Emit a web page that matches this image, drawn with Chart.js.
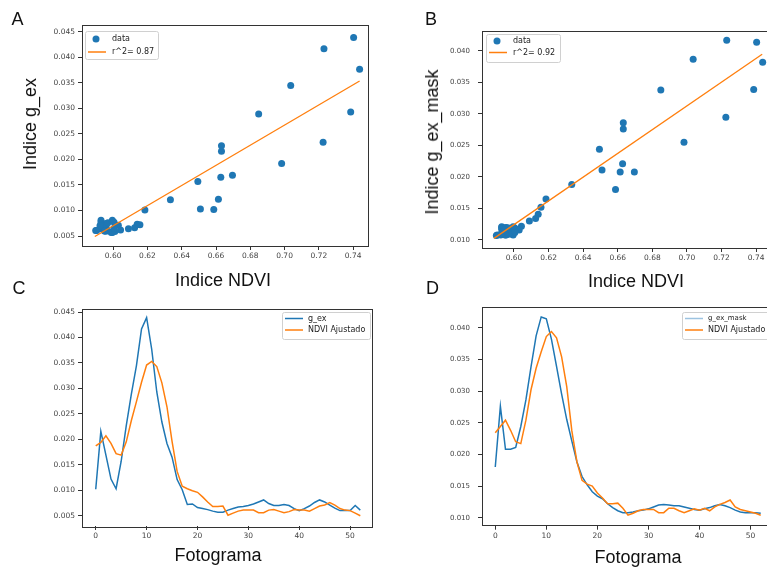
<!DOCTYPE html>
<html>
<head>
<meta charset="utf-8">
<script src="https://cdn.jsdelivr.net/npm/chart.js@4.4.1/dist/chart.umd.min.js"></script>
<style>
  body { margin: 0; background: #fff; overflow: hidden; width: 767px; height: 568px; position: relative;
         font-family: "Liberation Sans", Arial, sans-serif; }
  .pane { position: absolute; }
  .lbl { position: absolute; color: #111; white-space: nowrap; font-size: 18px; line-height: 1; }
  .ht { transform: translate(-50%, -50%); }
  .vt { transform: translate(-50%, -50%) rotate(-90deg); }
</style>
</head>
<body>

<div class="pane" style="left:0;top:0"><canvas id="chartA" width="380" height="280"></canvas></div>
<div class="pane" style="left:400px;top:0"><canvas id="chartB" width="380" height="280"></canvas></div>
<div class="pane" style="left:0;top:280px"><canvas id="chartC" width="380" height="288"></canvas></div>
<div class="pane" style="left:400px;top:280px"><canvas id="chartD" width="380" height="288"></canvas></div>

<div class="lbl ht" style="left:17.5px;top:18.5px">A</div>
<div class="lbl ht" style="left:431px;top:18.5px">B</div>
<div class="lbl ht" style="left:19px;top:287.5px">C</div>
<div class="lbl ht" style="left:432.5px;top:287.5px">D</div>

<div class="lbl vt" style="left:29.5px;top:124px">Indice g_ex</div>
<div class="lbl ht" style="left:223px;top:280px">Indice NDVI</div>
<div class="lbl vt" style="left:432px;top:142px">Indice g_ex_mask</div>
<div class="lbl ht" style="left:636px;top:281px">Indice NDVI</div>
<div class="lbl ht" style="left:218px;top:555px">Fotograma</div>
<div class="lbl ht" style="left:638px;top:557px">Fotograma</div>

<script>
// frame index of each sample
var frames = [0, 1, 2, 3, 4, 5, 6, 7, 8, 9, 10, 11, 12, 13, 14, 15, 16, 17, 18, 19, 20,
  21, 22, 23, 24, 25, 26, 27, 28, 29, 30, 31, 32, 33, 34, 35, 36, 37, 38, 39, 40,
  41, 42, 43, 44, 45, 46, 47, 48, 49, 50, 51, 52];

// NDVI per frame (x of the scatters)
var ndvi = [0.6587, 0.6632, 0.6696, 0.6614, 0.6509, 0.6494, 0.6632, 0.6849, 0.7036, 0.7230,
  0.7403, 0.7438, 0.7386, 0.7225, 0.6983, 0.6628, 0.6334, 0.6185, 0.6156, 0.6140,
  0.6125, 0.6089, 0.6043, 0.6010, 0.5989, 0.5995, 0.5903, 0.5923, 0.5944, 0.5954,
  0.5954, 0.5954, 0.5929, 0.5929, 0.5954, 0.5959, 0.5944, 0.5929, 0.5939, 0.5959,
  0.5954, 0.5954, 0.5944, 0.5969, 0.5995, 0.6005, 0.6030, 0.6005, 0.5969, 0.5954,
  0.5949, 0.5923, 0.5898];

var gex = [0.0102, 0.0216, 0.0169, 0.0122, 0.0103, 0.0157, 0.0227, 0.0289, 0.0345, 0.0417,
  0.0439, 0.0377, 0.0293, 0.0234, 0.0192, 0.0165, 0.0121, 0.0101, 0.0072, 0.0073,
  0.0066, 0.0064, 0.0062, 0.0059, 0.0057, 0.0057, 0.0061, 0.0064, 0.0067, 0.0068,
  0.0070, 0.0073, 0.0077, 0.0081, 0.0074, 0.0070, 0.0070, 0.0072, 0.0070, 0.0064,
  0.0060, 0.0064, 0.0069, 0.0076, 0.0081, 0.0077, 0.0071, 0.0065, 0.0060, 0.0060,
  0.0060, 0.0070, 0.0061];

var gexMask = [0.0180, 0.0276, 0.0208, 0.0208, 0.0211, 0.0244, 0.0286, 0.0338, 0.0387, 0.0417,
  0.0414, 0.0382, 0.0339, 0.0295, 0.0255, 0.0221, 0.0188, 0.0165, 0.0152, 0.0141,
  0.0134, 0.0130, 0.0122, 0.0116, 0.0111, 0.0108, 0.0108, 0.0109, 0.0111, 0.0112,
  0.0114, 0.0117, 0.0120, 0.0121, 0.0120, 0.0119, 0.0119, 0.0117, 0.0115, 0.0113,
  0.0112, 0.0114, 0.0116, 0.0119, 0.0121, 0.0119, 0.0116, 0.0112, 0.0109, 0.0108,
  0.0108, 0.0108, 0.0107];

// "NDVI Ajustado" curves
var ndviAjA = [0.0187, 0.0194, 0.0207, 0.0192, 0.0172, 0.0169, 0.0195, 0.0237, 0.0274, 0.0312,
  0.0346, 0.0353, 0.0343, 0.0311, 0.0264, 0.0196, 0.0137, 0.0108, 0.0103, 0.0099,
  0.0096, 0.0087, 0.0077, 0.0068, 0.0068, 0.0069, 0.0051, 0.0055, 0.0059, 0.0061,
  0.0061, 0.0061, 0.0056, 0.0056, 0.0061, 0.0062, 0.0059, 0.0056, 0.0058, 0.0062,
  0.0061, 0.0061, 0.0059, 0.0064, 0.0069, 0.0071, 0.0076, 0.0071, 0.0064, 0.0061,
  0.0060, 0.0055, 0.0050];

var ndviAjB = [0.0234, 0.0244, 0.0254, 0.0238, 0.0220, 0.0217, 0.0254, 0.0302, 0.0336, 0.0362,
  0.0386, 0.0394, 0.0384, 0.0354, 0.0307, 0.0237, 0.0188, 0.0159, 0.0153, 0.0150,
  0.0139, 0.0131, 0.0122, 0.0122, 0.0123, 0.0115, 0.0104, 0.0107, 0.0111, 0.0113,
  0.0113, 0.0113, 0.0108, 0.0108, 0.0115, 0.0115, 0.0111, 0.0108, 0.0111, 0.0114,
  0.0112, 0.0115, 0.0111, 0.0117, 0.0121, 0.0124, 0.0128, 0.0117, 0.0113, 0.0111,
  0.0109, 0.0107, 0.0104];

// fit lines (end points)
var fitAx = [0.5893, 0.7438];
var fitAy = [0.0049, 0.0354];
var fitBx = [0.5884, 0.7435];
var fitBy = [0.01026, 0.03947];

// tick labels
var ticksNdvi = [0.60, 0.62, 0.64, 0.66, 0.68, 0.70, 0.72, 0.74];
var ticksGex = [0.005, 0.010, 0.015, 0.020, 0.025, 0.030, 0.035, 0.040, 0.045];
var ticksMask = [0.010, 0.015, 0.020, 0.025, 0.030, 0.035, 0.040];
var ticksFrame = [0, 10, 20, 30, 40, 50];

var BLUE = '#1f77b4', ORANGE = '#ff7f0e';

function pts(xs, ys) {
    return xs.map(function(x, i) { return { x: x, y: ys[i] }; });
}

// box round the plot area
var framePlugin = {
    id: 'frameBox',
    afterDraw: function(chart) {
        var a = chart.chartArea, ctx = chart.ctx;
        ctx.save();
        ctx.strokeStyle = '#333';
        ctx.lineWidth = 1;
        ctx.strokeRect(Math.round(a.left) + 0.5, Math.round(a.top) + 0.5,
            Math.round(a.right - a.left), Math.round(a.bottom - a.top));
        ctx.restore();
    }
};

// legend drawn inside the axes, matplotlib style
var boxLegend = {
    id: 'boxLegend',
    afterDraw: function(chart, args, o) {
        if (!o || !o.items) return;
        var ctx = chart.ctx;
        ctx.save();
        ctx.fillStyle = 'rgba(255,255,255,0.85)';
        ctx.strokeStyle = '#d0d0d0';
        ctx.lineWidth = 1;
        ctx.beginPath();
        ctx.roundRect(o.x + 0.5, o.y + 0.5, o.w, o.h, 2);
        ctx.fill();
        ctx.stroke();
        o.items.forEach(function(it, i) {
            var cy = o.y + o.row0 + i * o.rowGap;
            if (it.kind == 'dot') {
                ctx.fillStyle = it.color;
                ctx.beginPath();
                ctx.arc(o.x + o.sym + 8, cy, 3.5, 0, Math.PI * 2);
                ctx.fill();
            } else {
                ctx.strokeStyle = it.color;
                ctx.lineWidth = 1.5;
                ctx.beginPath();
                ctx.moveTo(o.x + o.sym, cy);
                ctx.lineTo(o.x + o.sym + 18, cy);
                ctx.stroke();
            }
            ctx.fillStyle = '#222';
            ctx.font = (it.size || 8) + 'px "DejaVu Sans"';
            ctx.textBaseline = 'middle';
            ctx.fillText(it.text, o.x + o.txt, cy);
        });
        ctx.restore();
    }
};

function axis(range, ticks, fmt, fit, fsize, pad) {
    return {
        type: 'linear',
        min: range[0],
        max: range[1],
        afterBuildTicks: function(s) { s.ticks = ticks.map(function(v) { return { value: v }; }); },
        afterFit: fit,
        grid: { drawOnChartArea: false, tickLength: 4, color: '#333' },
        border: { display: false },
        ticks: {
            autoSkip: false, maxRotation: 0, padding: pad, color: '#444',
            font: { family: 'DejaVu Sans', size: fsize },
            callback: fmt
        }
    };
}

function makeChart(id, type, datasets, xr, yr, xt, yt, xfmt, yfmt, pad, xh, legend, yFont, yPad) {
    return new Chart(document.getElementById(id), {
        type: type,
        data: { datasets: datasets },
        options: {
            responsive: false,
            animation: false,
            devicePixelRatio: 1,
            layout: { padding: pad },
            plugins: { legend: { display: false }, tooltip: { enabled: false }, boxLegend: legend },
            scales: {
                x: axis(xr, xt, xfmt, function(s) { s.height = xh; }, 7.5, 2),
                y: axis(yr, yt, yfmt, function(s) { s.width = 82; }, yFont, yPad)
            }
        },
        plugins: [framePlugin, boxLegend]
    });
}

var f2 = function(v) { return v.toFixed(2); };
var f3 = function(v) { return v.toFixed(3); };
var f0 = function(v) { return String(v); };

// A
makeChart('chartA', 'scatter', [
    { type: 'line', data: pts(fitAx, fitAy), borderColor: ORANGE, borderWidth: 1.3, pointRadius: 0, order: 1 },
    { data: pts(ndvi, gex), backgroundColor: BLUE, borderWidth: 0, pointRadius: 3.5, order: 2 }
], [0.5818, 0.7487], [0.00304, 0.04637], ticksNdvi, ticksGex, f2, f3,
   { left: 0, top: 25, right: 12, bottom: 0 }, 34,
   { x: 85, y: 31, w: 73, h: 28, row0: 8, rowGap: 13, sym: 3, txt: 27,
     items: [{ kind: 'dot', color: BLUE, text: 'data' }, { kind: 'line', color: ORANGE, text: 'r^2= 0.87' }] },
   7.5, 3);

// B
makeChart('chartB', 'scatter', [
    { type: 'line', data: pts(fitBx, fitBy), borderColor: ORANGE, borderWidth: 1.3, pointRadius: 0, order: 1 },
    { data: pts(ndvi, gexMask), backgroundColor: BLUE, borderWidth: 0, pointRadius: 3.5, order: 2 }
], [0.5815, 0.7515], [0.00873, 0.04317], ticksNdvi, ticksMask, f2, f3,
   { left: 0, top: 31, right: 4, bottom: 0 }, 32,
   { x: 86, y: 34, w: 74, h: 28, row0: 7, rowGap: 11.5, sym: 3, txt: 27,
     items: [{ kind: 'dot', color: BLUE, text: 'data' }, { kind: 'line', color: ORANGE, text: 'r^2= 0.92' }] },
   7, 8);

// C
makeChart('chartC', 'line', [
    { data: pts(frames, ndviAjA), borderColor: ORANGE, borderWidth: 1.5, pointRadius: 0, tension: 0, order: 1 },
    { data: pts(frames, gex), borderColor: BLUE, borderWidth: 1.5, pointRadius: 0, tension: 0, order: 2 }
], [-2.7, 54.3], [0.00298, 0.0457], ticksFrame, ticksGex, f0, f3,
   { left: 0, top: 28.5, right: 8, bottom: 0 }, 42,
   { x: 282, y: 32, w: 88, h: 27, row0: 6.5, rowGap: 11.5, sym: 3, txt: 26,
     items: [{ kind: 'line', color: BLUE, text: 'g_ex' }, { kind: 'line', color: ORANGE, text: 'NDVI Ajustado' }] },
   7.5, 3);

// D
makeChart('chartD', 'line', [
    { data: pts(frames, ndviAjB), borderColor: ORANGE, borderWidth: 1.5, pointRadius: 0, tension: 0, order: 1 },
    { data: pts(frames, gexMask), borderColor: BLUE, borderWidth: 1.5, pointRadius: 0, tension: 0, order: 2 }
], [-2.6, 54.6], [0.00874, 0.04322], ticksFrame, ticksMask, f0, f3,
   { left: 0, top: 27.3, right: 6, bottom: 0 }, 42.3,
   { x: 282, y: 32, w: 96, h: 27, row0: 6.5, rowGap: 11.5, sym: 3, txt: 26,
     items: [{ kind: 'line', color: '#9cc3e0', text: 'g_ex_mask', size: 7 }, { kind: 'line', color: ORANGE, text: 'NDVI Ajustado' }] },
   7, 8);
</script>
</body>
</html>
